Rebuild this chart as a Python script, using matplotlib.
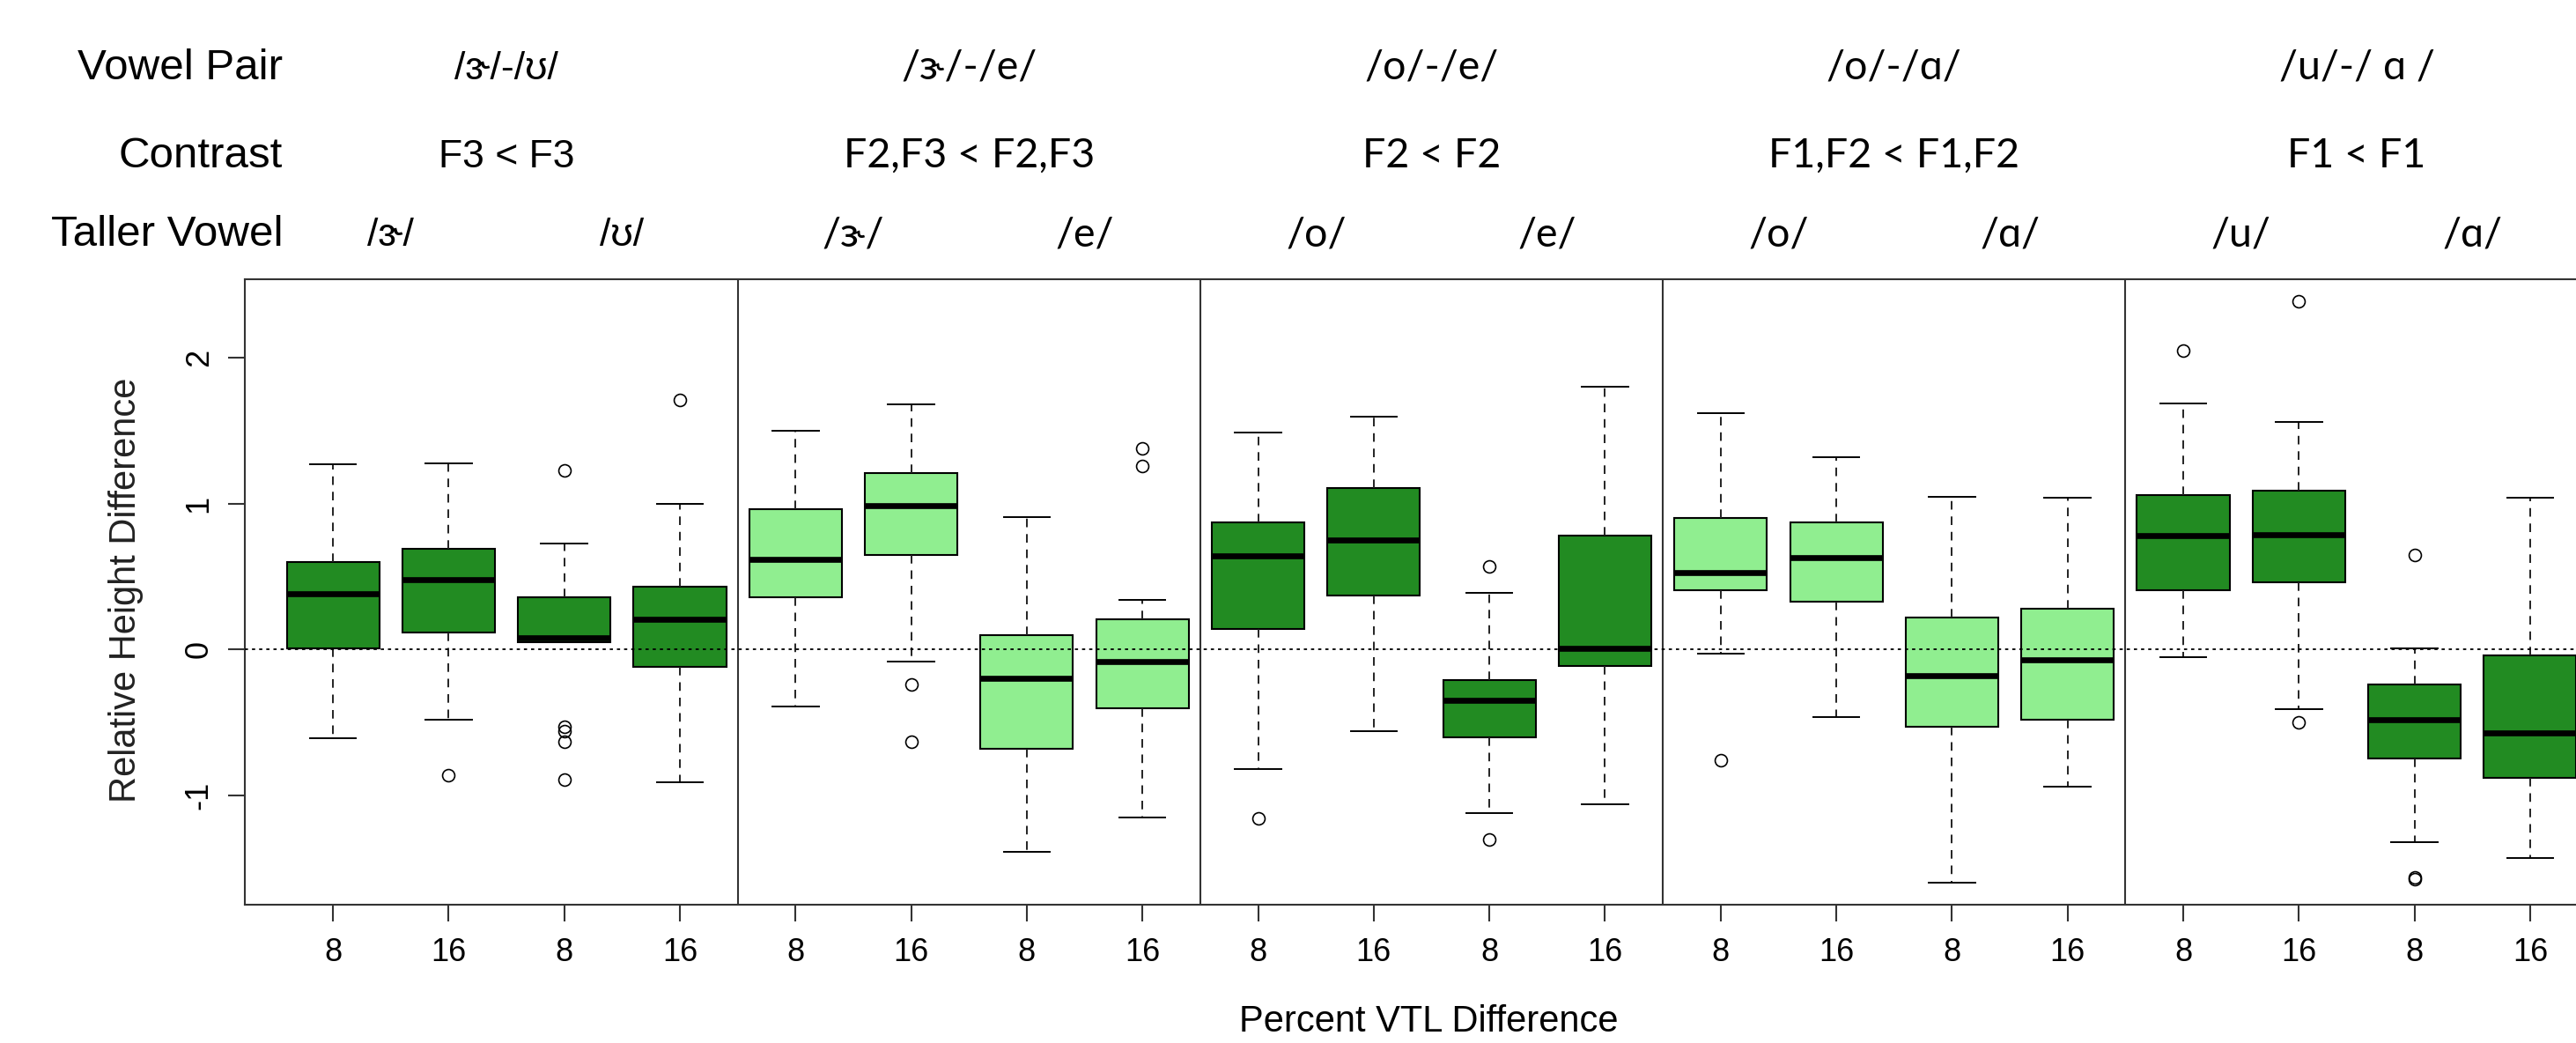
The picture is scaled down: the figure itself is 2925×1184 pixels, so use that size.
import matplotlib.pyplot as plt
from matplotlib import transforms

plt.rcParams['font.family'] = ['Liberation Sans', 'DejaVu Sans']

# header texts
vowel_pairs = ["/ɝ/-/ʊ/", "/ɝ/-/e/", "/o/-/e/", "/o/-/ɑ/", "/u/-/ ɑ /"]
contrasts = ["F3 < F3", "F2,F3 < F2,F3", "F2 < F2", "F1,F2 < F1,F2", "F1 < F1"]
taller_vowels = ["/ɝ/", "/ʊ/", "/ɝ/", "/e/", "/o/", "/e/", "/o/", "/ɑ/", "/u/", "/ɑ/"]
vtl_labels = ["8", "16", "8", "16", "8", "16", "8", "16", "8", "16",
              "8", "16", "8", "16", "8", "16", "8", "16", "8", "16"]

# box statistics, left to right (20 boxes)
whisker_hi = [1.27, 1.28, 0.73, 1.00, 1.50, 1.68, 0.91, 0.34, 1.49, 1.60,
              0.39, 1.80, 1.62, 1.32, 1.05, 1.04, 1.69, 1.56, 0.01, 1.04]
q3 = [0.60, 0.69, 0.36, 0.43, 0.96, 1.21, 0.10, 0.21, 0.87, 1.11,
      -0.21, 0.78, 0.90, 0.87, 0.22, 0.28, 1.06, 1.09, -0.24, -0.04]
medians = [0.38, 0.48, 0.08, 0.21, 0.62, 0.99, -0.20, -0.08, 0.64, 0.75,
           -0.35, 0.01, 0.53, 0.63, -0.18, -0.07, 0.78, 0.79, -0.48, -0.57]
q1 = [0.01, 0.12, 0.05, -0.12, 0.36, 0.65, -0.68, -0.40, 0.14, 0.37,
      -0.60, -0.11, 0.41, 0.33, -0.53, -0.48, 0.41, 0.46, -0.75, -0.88]
whisker_lo = [-0.61, -0.48, 0.05, -0.91, -0.39, -0.08, -1.39, -1.15, -0.82, -0.56,
              -1.12, -1.06, -0.03, -0.46, -1.60, -0.94, -0.05, -0.41, -1.32, -1.43]
outliers = [[], [-0.86], [1.23, -0.53, -0.56, -0.63, -0.89], [1.71],
            [], [-0.24, -0.63], [], [1.38, 1.26],
            [-1.16], [], [0.57, -1.30], [],
            [-0.76], [], [], [],
            [2.05], [2.39, -0.50], [0.65, -1.56, -1.575], []]
group_dark = [True, False, True, False, True]

dark_green = '#228B22'
light_green = '#90EE90'

fig = plt.figure(figsize=(29.25, 11.84), dpi=100)
ax = fig.add_axes([278 / 2925, 1 - 1027 / 1184, 2695 / 2925, 710 / 1184])

positions = list(range(1, len(medians) + 1))
stats = []
for i in range(len(medians)):
    stats.append(dict(med=medians[i], q1=q1[i], q3=q3[i],
                      whislo=whisker_lo[i], whishi=whisker_hi[i],
                      fliers=outliers[i]))

bp = ax.bxp(stats, positions=positions, widths=0.8, capwidths=0.4,
            patch_artist=True,
            boxprops=dict(edgecolor='black', linewidth=1.5),
            whiskerprops=dict(color='#222222', linewidth=1.4, linestyle=(0, (5, 4))),
            capprops=dict(color='black', linewidth=1.4),
            medianprops=dict(color='black', linewidth=4.8),
            flierprops=dict(marker='o', markerfacecolor='none', markeredgecolor='black',
                            markersize=10, markeredgewidth=1.2))
for i, box in enumerate(bp['boxes']):
    box.set_facecolor(dark_green if group_dark[i // 4] else light_green)

ax.axhline(0, color='black', linewidth=1.3, linestyle=(0, (2, 2.5)), zorder=5)
for g in range(1, len(vowel_pairs)):
    ax.axvline(4 * g + 0.5, color='#333333', linewidth=1.5)

ax.set_xlim(0.238, 20.762)
ax.set_ylim(-1.75, 2.54)
ax.set_xticks(positions)
ax.set_xticklabels(vtl_labels)
ax.set_yticks([-1, 0, 1, 2])
ax.set_yticklabels(["-1", "0", "1", "2"], rotation=90, va='center')
ax.tick_params(axis='both', length=13.7, width=1.5, color='#333333', labelsize=26)
ax.tick_params(axis='x', pad=13)
ax.tick_params(axis='y', pad=11)
for s in ax.spines.values():
    s.set_linewidth(1.5)
    s.set_color('#333333')

fig.text(1622 / 2925, 1 - 1160 / 1184, "Percent VTL Difference", fontsize=30,
         ha='center', va='center')
fig.text(143 / 2925, 1 - 670 / 1184, "Relative Height Difference", fontsize=30,
         rotation=90, ha='center', va='center', color='#222222')

# header rows above the plot
arial_like = ['Liberation Sans', 'DejaVu Sans']
calibri_like = ['Lato', 'DejaVu Sans']
row_y = [1 - 90 / 1184, 1 - 190 / 1184, 1 - 279 / 1184]
row_names = ["Vowel Pair", "Contrast", "Taller Vowel"]
for name, y in zip(row_names, row_y):
    fig.text(321 / 2925, y, name, fontsize=35.5, family=arial_like,
             ha='right', va='baseline')

trans = transforms.blended_transform_factory(ax.transData, fig.transFigure)
for g in range(len(vowel_pairs)):
    fam = arial_like if g == 0 else calibri_like
    fs = 32 if g == 0 else 33.5
    cx = sum(positions[4 * g:4 * g + 4]) / 4
    ax.text(cx, row_y[0], vowel_pairs[g], transform=trans, fontsize=fs,
            family=fam, ha='center', va='baseline')
    ax.text(cx, row_y[1], contrasts[g], transform=trans, fontsize=fs,
            family=fam, ha='center', va='baseline')
    for k in range(2):
        px = (positions[4 * g + 2 * k] + positions[4 * g + 2 * k + 1]) / 2
        ax.text(px, row_y[2], taller_vowels[2 * g + k], transform=trans,
                fontsize=fs, family=fam, ha='center', va='baseline')

fig.savefig('out.png', dpi=100)
